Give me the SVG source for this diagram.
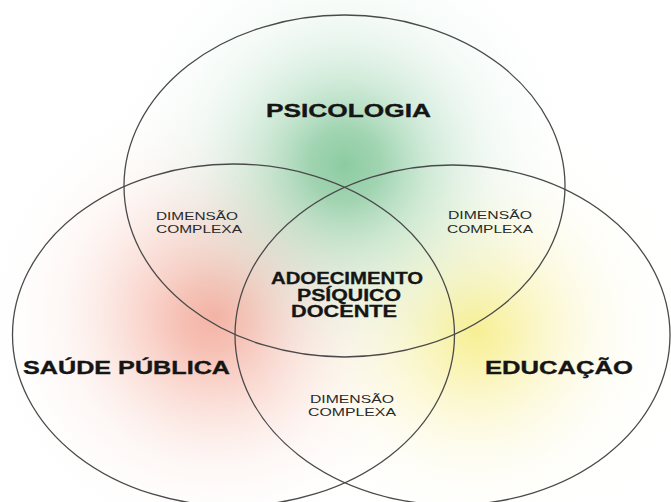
<svg xmlns="http://www.w3.org/2000/svg" width="671" height="502" viewBox="0 0 671 502">
<defs>
<radialGradient id="gGreen" cx="345" cy="165" r="245" gradientUnits="userSpaceOnUse">
<stop offset="0" stop-color="#7fc697" stop-opacity="0.9"/>
<stop offset="0.15" stop-color="#87c99d" stop-opacity="0.78"/>
<stop offset="0.35" stop-color="#a4d7b5" stop-opacity="0.5"/>
<stop offset="0.6" stop-color="#cfeadb" stop-opacity="0.25"/>
<stop offset="0.85" stop-color="#eef7f1" stop-opacity="0.08"/>
<stop offset="1" stop-color="#ffffff" stop-opacity="0"/>
</radialGradient>
<radialGradient id="gRed" cx="215" cy="315" r="235" gradientUnits="userSpaceOnUse">
<stop offset="0" stop-color="#f29c8a" stop-opacity="0.85"/>
<stop offset="0.15" stop-color="#f3a594" stop-opacity="0.72"/>
<stop offset="0.38" stop-color="#f6bcae" stop-opacity="0.48"/>
<stop offset="0.62" stop-color="#f9d9d0" stop-opacity="0.25"/>
<stop offset="0.85" stop-color="#fcefeb" stop-opacity="0.08"/>
<stop offset="1" stop-color="#ffffff" stop-opacity="0"/>
</radialGradient>
<radialGradient id="gYellow" cx="475" cy="330" r="220" gradientUnits="userSpaceOnUse">
<stop offset="0" stop-color="#f6ec7c" stop-opacity="0.88"/>
<stop offset="0.15" stop-color="#f7ee8c" stop-opacity="0.72"/>
<stop offset="0.38" stop-color="#f9f2ae" stop-opacity="0.48"/>
<stop offset="0.62" stop-color="#fbf7d4" stop-opacity="0.25"/>
<stop offset="0.85" stop-color="#fdfbee" stop-opacity="0.08"/>
<stop offset="1" stop-color="#ffffff" stop-opacity="0"/>
</radialGradient>
<style>
.ring{fill:none;stroke:#4a4a4a;stroke-width:1.3}
.big{font-family:"Liberation Sans",Arial,sans-serif;font-weight:bold;fill:#151515;stroke:#151515;stroke-width:0.35;text-anchor:middle}
.mid{font-family:"Liberation Sans",Arial,sans-serif;font-weight:bold;fill:#151515;stroke:#151515;stroke-width:0.3;text-anchor:middle;font-size:16px}
.small{font-family:"Liberation Sans",Arial,sans-serif;fill:#2a2a2a;text-anchor:middle;font-size:10.5px}
</style>
</defs>
<rect width="671" height="502" fill="#ffffff"/>
<g id="glow">
<circle cx="215" cy="315" r="235" fill="url(#gRed)"/>
<circle cx="475" cy="330" r="220" fill="url(#gYellow)"/>
<circle cx="345" cy="165" r="245" fill="url(#gGreen)"/>
</g>
<g id="connectors">
<ellipse id="ring-psicologia" class="ring" cx="344.5" cy="186" rx="220.5" ry="171"/>
<ellipse id="ring-saude" class="ring" cx="233.5" cy="335" rx="221" ry="171"/>
<ellipse id="ring-educacao" class="ring" cx="452.5" cy="335" rx="217.5" ry="170"/>
</g>
<g id="psicologia"><text class="big" x="348.5" y="117" font-size="19" textLength="165" lengthAdjust="spacingAndGlyphs">PSICOLOGIA</text></g>
<g id="saude"><text class="big" x="126.5" y="374" font-size="18.5" textLength="207" lengthAdjust="spacingAndGlyphs">SAÚDE PÚBLICA</text></g>
<g id="educacao"><text class="big" x="559" y="374" font-size="18.5" textLength="148" lengthAdjust="spacingAndGlyphs">EDUCAÇÃO</text></g>
<g id="centro">
<text class="mid" x="347" y="284" textLength="152" lengthAdjust="spacingAndGlyphs">ADOECIMENTO</text>
<text class="mid" x="349" y="300.5" textLength="104" lengthAdjust="spacingAndGlyphs">PSÍQUICO</text>
<text class="mid" x="344" y="317" textLength="106" lengthAdjust="spacingAndGlyphs">DOCENTE</text>
</g>
<g id="dim-esq">
<text class="small" x="197" y="220" textLength="82" lengthAdjust="spacingAndGlyphs">DIMENSÃO</text>
<text class="small" x="199" y="233" textLength="86" lengthAdjust="spacingAndGlyphs">COMPLEXA</text>
</g>
<g id="dim-dir">
<text class="small" x="490" y="219" textLength="84" lengthAdjust="spacingAndGlyphs">DIMENSÃO</text>
<text class="small" x="490" y="233" textLength="86" lengthAdjust="spacingAndGlyphs">COMPLEXA</text>
</g>
<g id="dim-inf">
<text class="small" x="352" y="403" textLength="84" lengthAdjust="spacingAndGlyphs">DIMENSÃO</text>
<text class="small" x="352" y="416" textLength="88" lengthAdjust="spacingAndGlyphs">COMPLEXA</text>
</g>
</svg>
